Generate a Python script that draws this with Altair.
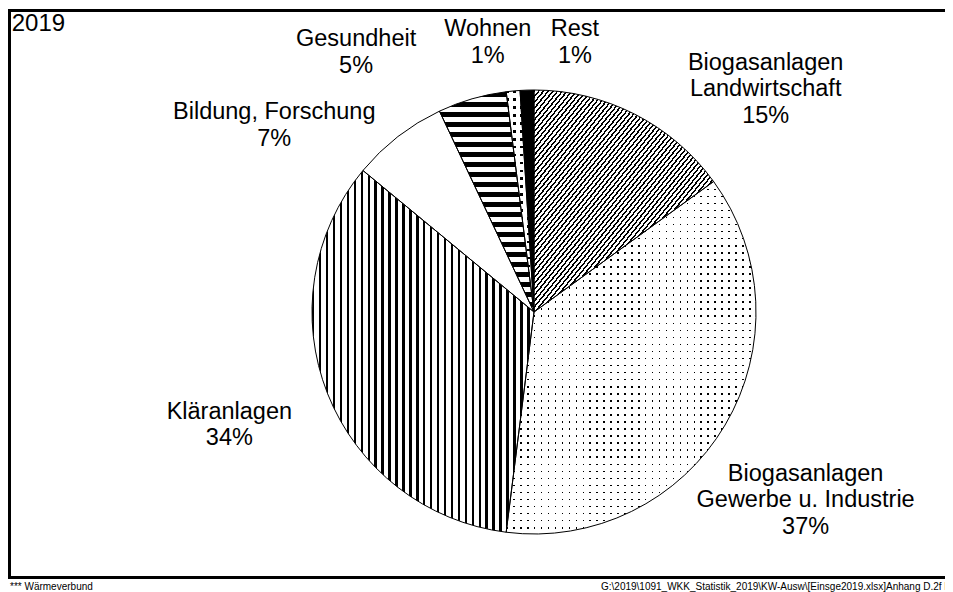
import math
import altair as alt
import pandas as pd

# ---------------- data ----------------
categories = [
    "Biogasanlagen Landwirtschaft",
    "Biogasanlagen Gewerbe u. Industrie",
    "Kläranlagen",
    "Bildung, Forschung",
    "Gesundheit",
    "Wohnen",
    "Rest",
]
label_lines = [
    ["Biogasanlagen", "Landwirtschaft"],
    ["Biogasanlagen", "Gewerbe u. Industrie"],
    ["Kläranlagen"],
    ["Bildung, Forschung"],
    ["Gesundheit"],
    ["Wohnen"],
    ["Rest"],
]
shares = [15, 37, 34, 7, 5, 1, 1]
year_label = "2019"
footer_left = "*** Wärmeverbund"
footer_right = "G:\\2019\\1091_WKK_Statistik_2019\\KW-Ausw\\[Einsge2019.xlsx]Anhang D.2f   Bericht"

labels = ["\n".join(lines + [f"{v}%"]) for lines, v in zip(label_lines, shares)]
df = pd.DataFrame({
    "cat": categories,
    "share": shares,
    "order": list(range(len(categories))),
    "label": labels,
})

# ---------------- layout / style ----------------
W, H = 937, 584
CX, CY, R = 526, 304, 222
FONT = "Liberation Sans"
LABEL_SIZE = 23.5
LINE_H = 26.7
LABEL_R = 290
BLACK, WHITE, CLEAR = "#000000", "#ffffff", "rgba(255,255,255,0)"
TOP, BOTTOM = 2.5, 569.5


def stripes(n, frac, on, off, x2, y2):
    stops = []
    for k in range(n):
        a = round(k / n, 5)
        b = round((k + frac) / n, 5)
        e = round((k + 1) / n, 5)
        stops += [
            {"offset": a, "color": on},
            {"offset": b, "color": on},
            {"offset": b, "color": off},
            {"offset": e, "color": off},
        ]
    return {"gradient": "linear", "x1": 0, "y1": 0, "x2": x2, "y2": y2, "stops": stops}


fills = [
    [stripes(76, 0.40, BLACK, WHITE, 1, 1)],
    [stripes(50, 0.22, BLACK, WHITE, 0, 1), stripes(36, 0.22, CLEAR, WHITE, 1, 0)],
    [stripes(32, 0.36, BLACK, WHITE, 1, 0)],
    [WHITE],
    [stripes(22, 0.55, BLACK, WHITE, 0, 1)],
    [stripes(28, 0.33, BLACK, WHITE, 0, 1), stripes(4, 0.38, CLEAR, WHITE, 1, 0)],
    [BLACK],
]
label_offsets = [(100, 16), (22, 21), (-35, 0), (-82, 36), (-97, 12.5), (-19, 13), (50, 14)]

theta_scale = alt.Scale(domain=[0, 100], range=[0, 2 * math.pi])

base = (
    alt.Chart(df)
    .transform_window(cum="sum(share)", sort=[alt.SortField("order")], frame=[None, 0])
    .transform_calculate(start="datum.cum - datum.share", mid="datum.cum - datum.share / 2")
)

layers = []
for cat, fl in zip(categories, fills):
    for f in fl:
        layers.append(
            base.transform_filter(alt.datum.cat == cat)
            .mark_arc(fill=f, strokeWidth=0, radius=R)
            .encode(
                theta=alt.Theta("start:Q", scale=theta_scale, stack=None),
                theta2="cum:Q",
                x=alt.value(CX),
                y=alt.value(CY),
            )
        )

layers.append(
    base.mark_arc(radius=R, fillOpacity=0, stroke=BLACK, strokeWidth=1).encode(
        theta=alt.Theta("start:Q", scale=theta_scale, stack=None),
        theta2="cum:Q",
        x=alt.value(CX),
        y=alt.value(CY),
    )
)

for cat, (dx, dy) in zip(categories, label_offsets):
    layers.append(
        base.transform_filter(alt.datum.cat == cat)
        .mark_text(
            font=FONT, fontSize=LABEL_SIZE, lineHeight=LINE_H, lineBreak="\n",
            align="center", baseline="alphabetic", color=BLACK,
            radius=LABEL_R, dx=dx, dy=dy,
        )
        .encode(
            theta=alt.Theta("mid:Q", scale=theta_scale, stack=None),
            text="label:N",
            x=alt.value(CX),
            y=alt.value(CY),
        )
    )

one = alt.Chart(pd.DataFrame({"k": [0]}))

frame = one.mark_rect(fillOpacity=0, stroke=BLACK, strokeWidth=3).encode(
    x=alt.value(1.5), x2=alt.value(W + 20), y=alt.value(TOP), y2=alt.value(BOTTOM))
mask = one.mark_rect(fill=WHITE, strokeWidth=0).encode(
    x=alt.value(W - 5), x2=alt.value(W + 2), y=alt.value(TOP + 1.6), y2=alt.value(BOTTOM - 1.6))

year = one.mark_text(font=FONT, fontSize=24, align="left", baseline="alphabetic", color=BLACK).encode(
    x=alt.value(3.7), y=alt.value(23), text=alt.value(year_label))
foot_l = one.mark_text(font=FONT, fontSize=10, align="left", baseline="alphabetic", color=BLACK).encode(
    x=alt.value(2), y=alt.value(582), text=alt.value(footer_left))
foot_r = one.mark_text(font=FONT, fontSize=10, align="left", baseline="alphabetic", color=BLACK).encode(
    x=alt.value(593), y=alt.value(582), text=alt.value(footer_right))

chart = (
    alt.layer(*layers, frame, mask, year, foot_l, foot_r)
    .properties(width=W, height=H, padding=0, autosize=alt.AutoSizeParams(type="none"),
                background="white")
    .configure_view(stroke=None)
)

chart.save("out.html", embed_options={"renderer": "svg", "actions": False})
